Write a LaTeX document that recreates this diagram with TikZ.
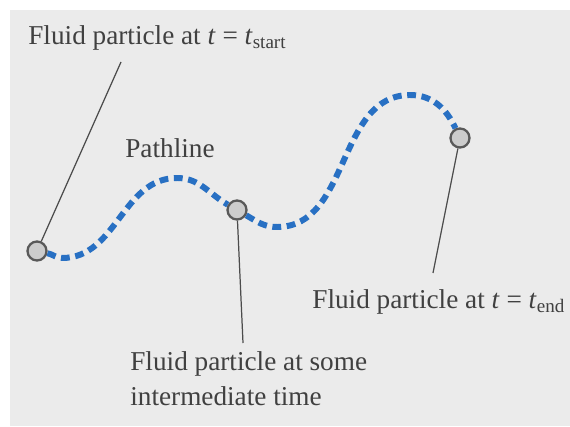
\documentclass[tikz,border=0pt]{standalone}
\usepackage{fontspec}
\setmainfont{Liberation Serif}
\definecolor{pathblue}{RGB}{40,112,195}
\begin{document}
\begin{tikzpicture}[x=0.02cm,y=0.02cm,
  particle/.style={circle,draw=black!65,line width=1.3pt,fill=black!20,minimum size=0.38cm,inner sep=0pt},
  pathl/.style={draw=pathblue,line width=3.4pt,dash pattern=on 5pt off 3.2pt},
  leader/.style={draw=black!70,line width=0.7pt},
  lbl/.style={inner sep=0pt,anchor=base west,text=black!75,font=\fontsize{15.5}{20}\selectfont}]
\useasboundingbox (0,0) rectangle (570,426);
\fill[white] (0,0) rectangle (570,426);
\fill[black!8] (10,0) rectangle (570,416);
% particles
\node[particle] (s) at (37,175) {};
\node[particle] (i) at (237,216) {};
\node[particle] (e) at (460,288) {};
% path helpers
\coordinate (low1) at (62,168);
\coordinate (p1) at (177,248);
\coordinate (tr) at (277,199);
\coordinate (p2) at (410,331);
\draw[pathl] (s) to[out=-12,in=180] (low1) to[out=0,in=180] (p1) to[out=0,in=150] (i)
  to[out=-30,in=180] (tr) to[out=0,in=180] (p2) to[out=0,in=115] (e);
% leader ends
\coordinate (ls) at (121,364);
\coordinate (li) at (243,83);
\coordinate (le) at (433,153);
\draw[leader] (s) -- (ls);
\draw[leader] (i) -- (li);
\draw[leader] (e) -- (le);
% labels
\node[lbl] (tstart) at (28,381) {Fluid particle at \textit{t} = \textit{t}\textsubscript{start}};
\node[lbl] (path) at (125,268) {Pathline};
\node[lbl] (tend) at (312,118) {Fluid particle at \textit{t} = \textit{t}\textsubscript{end}};
\node[lbl,align=left,anchor=north west] (tmid) at (130,75) {Fluid particle at some\\intermediate time};
\end{tikzpicture}
\end{document}
